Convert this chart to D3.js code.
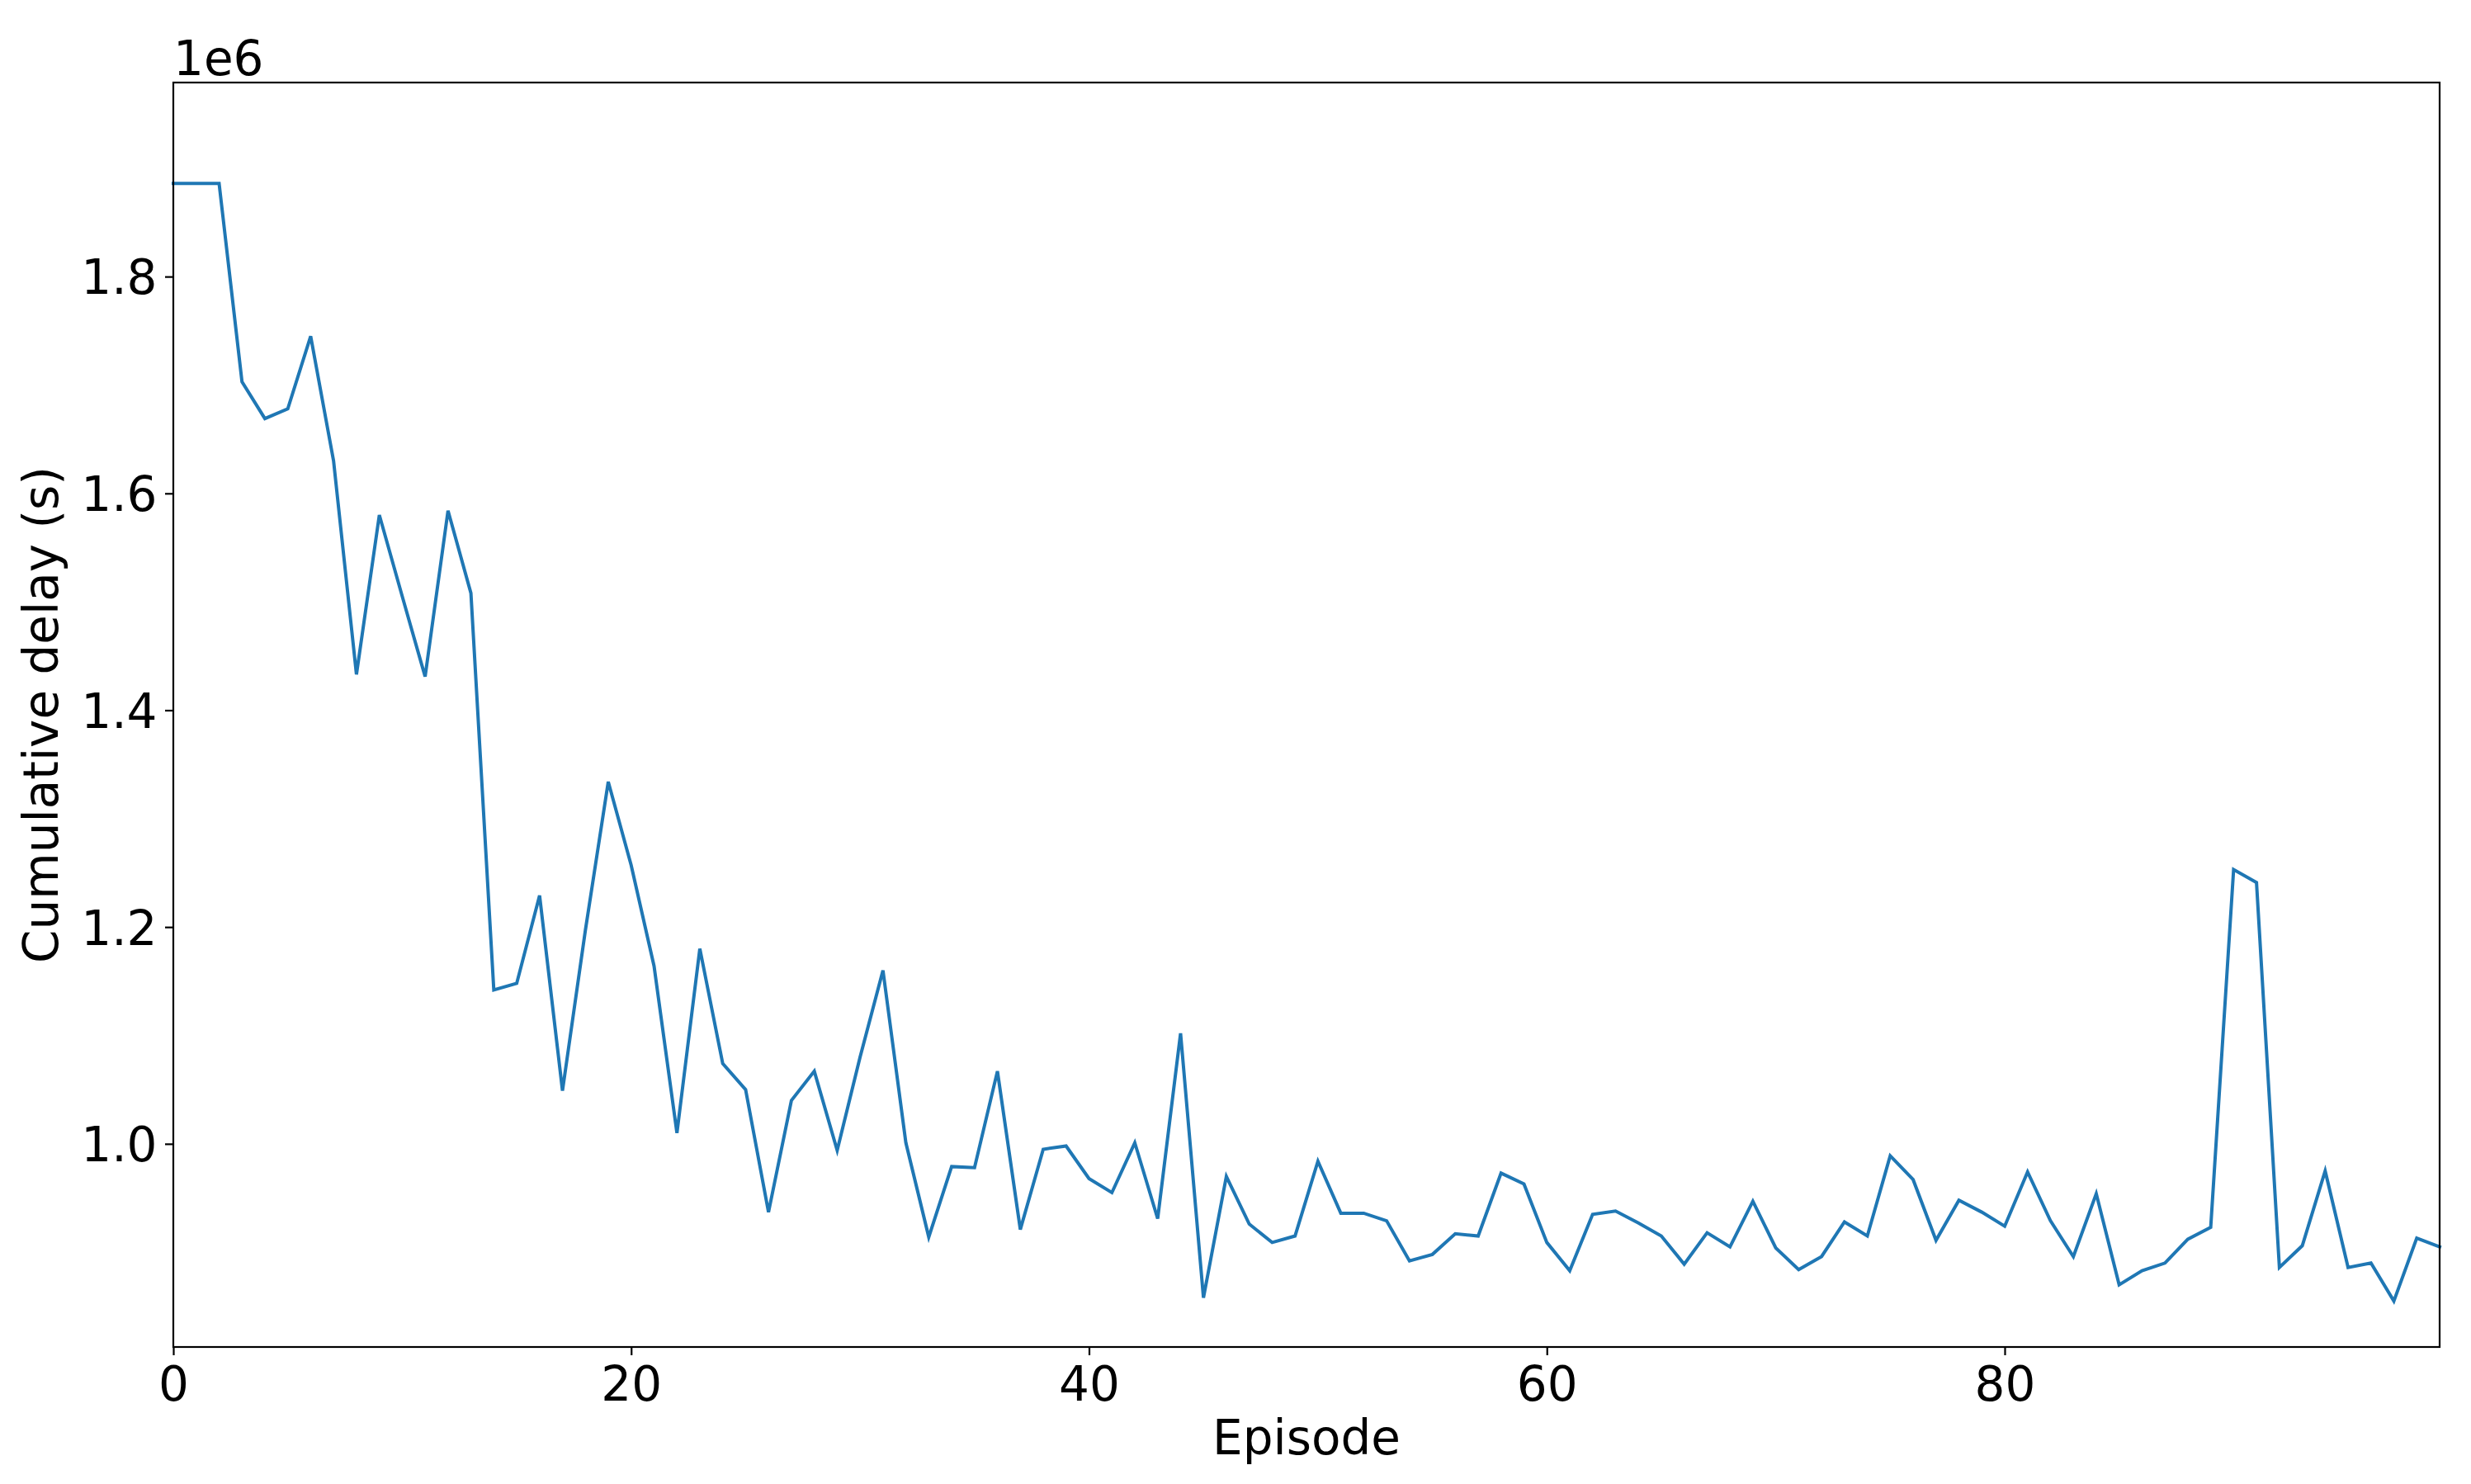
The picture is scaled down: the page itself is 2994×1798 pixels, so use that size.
<!DOCTYPE html>
<html>
<head>
<meta charset="utf-8">
<script src="https://d3js.org/d3.v7.min.js"></script>
<style>
  body { margin: 0; background: #fff; }
  svg text { font-family: "DejaVu Sans", sans-serif; fill: #000; }
</style>
</head>
<body>
<svg id="chart" width="2994" height="1798"></svg>
<script>
// cumulative delay per episode, in units of 1e6 s
var delay = [
  1.886, 1.886, 1.886, 1.703, 1.669, 1.678, 1.745, 1.630, 1.433, 1.580,
  1.505, 1.431, 1.584, 1.508, 1.142, 1.148, 1.229, 1.049, 1.197, 1.334,
  1.257, 1.164, 1.010, 1.180, 1.074, 1.050, 0.937, 1.040, 1.067, 0.994,
  1.080, 1.160, 1.001, 0.914, 0.979, 0.978, 1.067, 0.921, 0.995, 0.998,
  0.968, 0.955, 1.001, 0.931, 1.102, 0.858, 0.970, 0.926, 0.909, 0.915,
  0.984, 0.936, 0.936, 0.929, 0.892, 0.898, 0.917, 0.915, 0.973, 0.963,
  0.909, 0.883, 0.935, 0.938, 0.927, 0.915, 0.889, 0.918, 0.905, 0.947,
  0.904, 0.884, 0.896, 0.928, 0.915, 0.989, 0.967, 0.911, 0.948, 0.937,
  0.924, 0.974, 0.929, 0.896, 0.954, 0.870, 0.883, 0.890, 0.912, 0.923,
  1.253, 1.241, 0.886, 0.906, 0.975, 0.886, 0.890, 0.855, 0.913, 0.905
];
var episodes = d3.range(delay.length);
var xTicks = [0, 20, 40, 60, 80];
var yTicks = [1.0, 1.2, 1.4, 1.6, 1.8];
var yTickLabels = ["1.0", "1.2", "1.4", "1.6", "1.8"];

var svg = d3.select("#chart");
var margin = {left: 210, right: 38, top: 100, bottom: 166};
var width = +svg.attr("width") - margin.left - margin.right;
var height = +svg.attr("height") - margin.top - margin.bottom;
var fontSize = 58;

var x = d3.scaleLinear().domain([0, 99]).range([0, width]);
var y = d3.scaleLinear().domain([0.8126, 1.979]).range([height, 0]);

var g = svg.append("g")
  .attr("transform", "translate(" + margin.left + "," + margin.top + ")");

// the line
var line = d3.line()
  .x(function(d, i){ return x(episodes[i]); })
  .y(function(d){ return y(d); });

g.append("path")
  .datum(delay)
  .attr("d", line)
  .attr("fill", "none")
  .attr("stroke", "#1f77b4")
  .attr("stroke-width", 4)
  .attr("stroke-linejoin", "miter")
  .attr("stroke-linecap", "square");

// axes
var xAxis = g.append("g")
  .attr("transform", "translate(0," + height + ")")
  .call(d3.axisBottom(x).tickValues(xTicks).tickSize(10).tickPadding(10).tickSizeOuter(0));

var yAxis = g.append("g")
  .call(d3.axisLeft(y).tickValues(yTicks)
    .tickFormat(function(d, i){ return yTickLabels[i]; })
    .tickSize(10).tickPadding(10).tickSizeOuter(0));

[xAxis, yAxis].forEach(function(ax){
  ax.select(".domain").remove();
  ax.selectAll(".tick line").attr("stroke", "#000").attr("stroke-width", 2.2);
  ax.selectAll(".tick text")
    .style("font-size", fontSize + "px")
    .attr("fill", "#000");
});
xAxis.selectAll(".tick text").attr("y", 65).attr("dy", 0);
yAxis.selectAll(".tick text").attr("x", -19.5).attr("dy", "0.36em");

// frame
g.append("rect")
  .attr("x", 0).attr("y", 0)
  .attr("width", width).attr("height", height)
  .attr("fill", "none")
  .attr("stroke", "#000")
  .attr("stroke-width", 2.2);

// offset text and labels
g.append("text")
  .attr("x", 0)
  .attr("y", -9)
  .style("font-size", fontSize + "px")
  .text("1e6");

g.append("text")
  .attr("x", width / 2)
  .attr("y", height + 130)
  .attr("text-anchor", "middle")
  .style("font-size", fontSize + "px")
  .text("Episode");

svg.append("text")
  .attr("transform", "translate(70," + (margin.top + height / 2) + ") rotate(-90)")
  .attr("text-anchor", "middle")
  .style("font-size", fontSize + "px")
  .text("Cumulative delay (s)");
</script>
</body>
</html>
